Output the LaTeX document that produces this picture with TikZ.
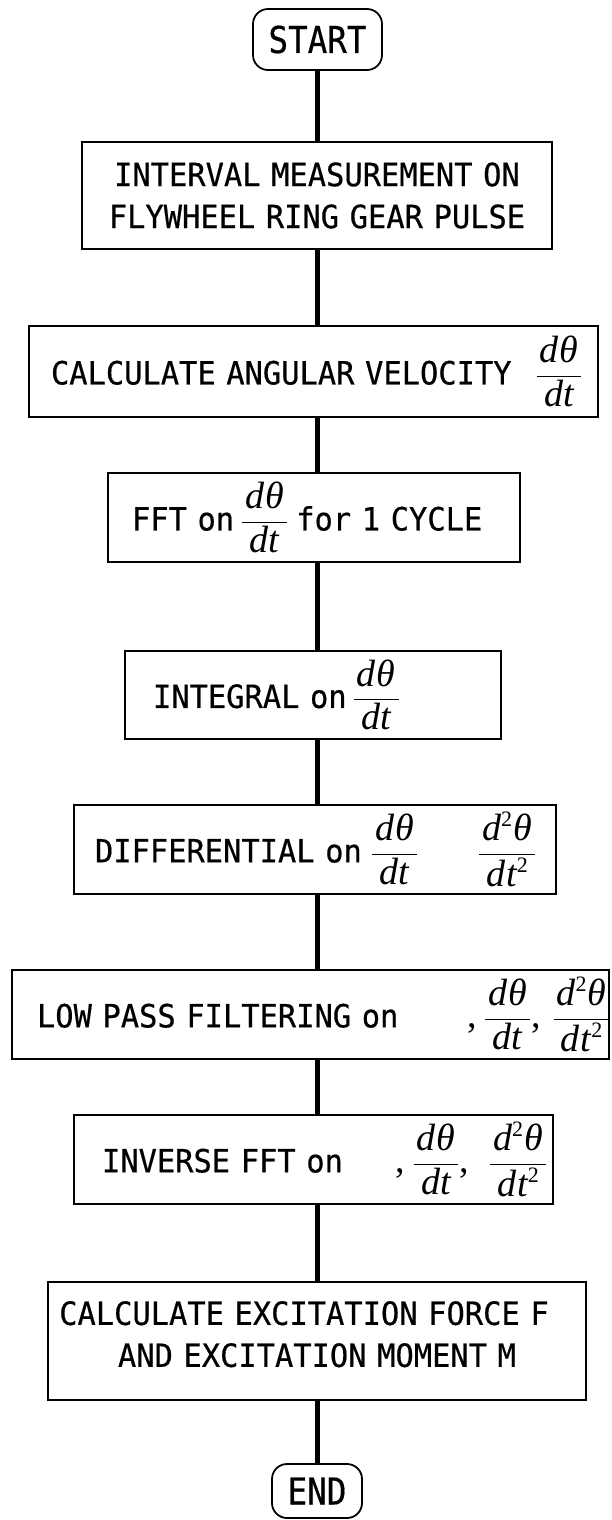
\RequirePackage{fix-cm}
\documentclass[tikz,border=0pt]{standalone}
\usepackage{amsmath}
\usepackage{fontspec}
\newfontfamily\boxfont[FakeStretch=0.95,FakeBold=0.5]{DejaVu Sans Mono}
\newfontfamily\endfont[FakeStretch=0.88,FakeBold=0.5]{DejaVu Sans Mono}
\newfontfamily\serifit{Liberation Serif}
% italic symbols of the derivative fractions
\newcommand{\sym}[1]{\hbox{\serifit\itshape\fontsize{38}{38}\selectfont #1}}
\newcommand{\sqr}{\raisebox{14pt}{\upshape\fontsize{22}{22}\selectfont 2}}
\newcommand{\dthdt}{$\dfrac{\sym{\kern3pt d\kern1pt θ\kern3pt}}{\sym{dt}}$}
\newcommand{\ddthdt}{$\dfrac{\sym{\kern3pt d\sqr\kern1pt θ\kern3pt}}{\sym{d\kern1pt t\sqr}}$}
\newcommand{\scomma}{{\serifit\upshape\fontsize{38}{38}\selectfont ,}}
\begin{document}
\begin{tikzpicture}[x=1pt,y=-1pt,
  stepbox/.style={draw, line width=1.8pt, inner xsep=0pt, inner ysep=0pt,
    align=left, font={\boxfont\fontsize{32}{42}\selectfont}},
  terminal/.style={draw, line width=1.8pt, rounded corners=15pt, inner sep=0pt,
    font={\endfont\fontsize{37}{37}\selectfont}},
  link/.style={line width=5pt}]
\useasboundingbox (0,0) rectangle (612,1520);
\coordinate (spine) at (317,0);

\node[terminal, minimum width=129pt, minimum height=61pt] (start) at (317.5,39.5) {START};

\node[stepbox, align=center, text width=470pt, minimum height=107pt] (b1) at (317,195.5)
  {INTERVAL MEASUREMENT ON\\FLYWHEEL RING GEAR PULSE};

\node[stepbox, text width=569pt, minimum height=91pt] (b2) at (313.5,371.5)
  {\hspace*{22pt}\mbox{CALCULATE ANGULAR VELOCITY\hspace{24pt}\dthdt}};

\node[stepbox, text width=412pt, minimum height=89pt] (b3) at (314,517.5)
  {\hspace*{24pt}\mbox{FFT on\hspace{7pt}\dthdt\hspace{8pt}for 1 CYCLE}};

\node[stepbox, text width=376pt, minimum height=88pt] (b4) at (313,695)
  {\hspace*{28pt}\mbox{INTEGRAL on\hspace{6pt}\dthdt}};

\node[stepbox, text width=482pt, minimum height=89pt] (b5) at (315,849.5)
  {\hspace*{21pt}\mbox{DIFFERENTIAL on\hspace{9pt}\dthdt\hspace{60pt}\ddthdt}};

\node[stepbox, text width=597pt, minimum height=89pt] (b6) at (310.5,1014.5)
  {\hspace*{25pt}\mbox{LOW PASS FILTERING on\hspace{69pt}\scomma\hspace{7pt}\dthdt\scomma\hspace{12pt}\ddthdt}};

\node[stepbox, text width=479pt, minimum height=89pt] (b7) at (313.5,1159.5)
  {\hspace*{28pt}\mbox{INVERSE FFT on\hspace{53pt}\scomma\hspace{7pt}\dthdt\scomma\hspace{20pt}\ddthdt}};

\node[stepbox, align=center, text width=538pt, minimum height=118pt] (b8) at (317,1341)
  {\mbox{CALCULATE EXCITATION FORCE F\kern26pt}\\\mbox{AND EXCITATION MOMENT M\rule[-14pt]{0pt}{14pt}}};

\node[terminal, minimum width=90pt, minimum height=54pt] (end) at (317,1491) {END};

% vertical flow line through all steps
\draw[link] (spine |- start.south) -- (spine |- b1.north);
\draw[link] (spine |- b1.south) -- (spine |- b2.north);
\draw[link] (spine |- b2.south) -- (spine |- b3.north);
\draw[link] (spine |- b3.south) -- (spine |- b4.north);
\draw[link] (spine |- b4.south) -- (spine |- b5.north);
\draw[link] (spine |- b5.south) -- (spine |- b6.north);
\draw[link] (spine |- b6.south) -- (spine |- b7.north);
\draw[link] (spine |- b7.south) -- (spine |- b8.north);
\draw[link] (spine |- b8.south) -- (spine |- end.north);
\end{tikzpicture}
\end{document}
